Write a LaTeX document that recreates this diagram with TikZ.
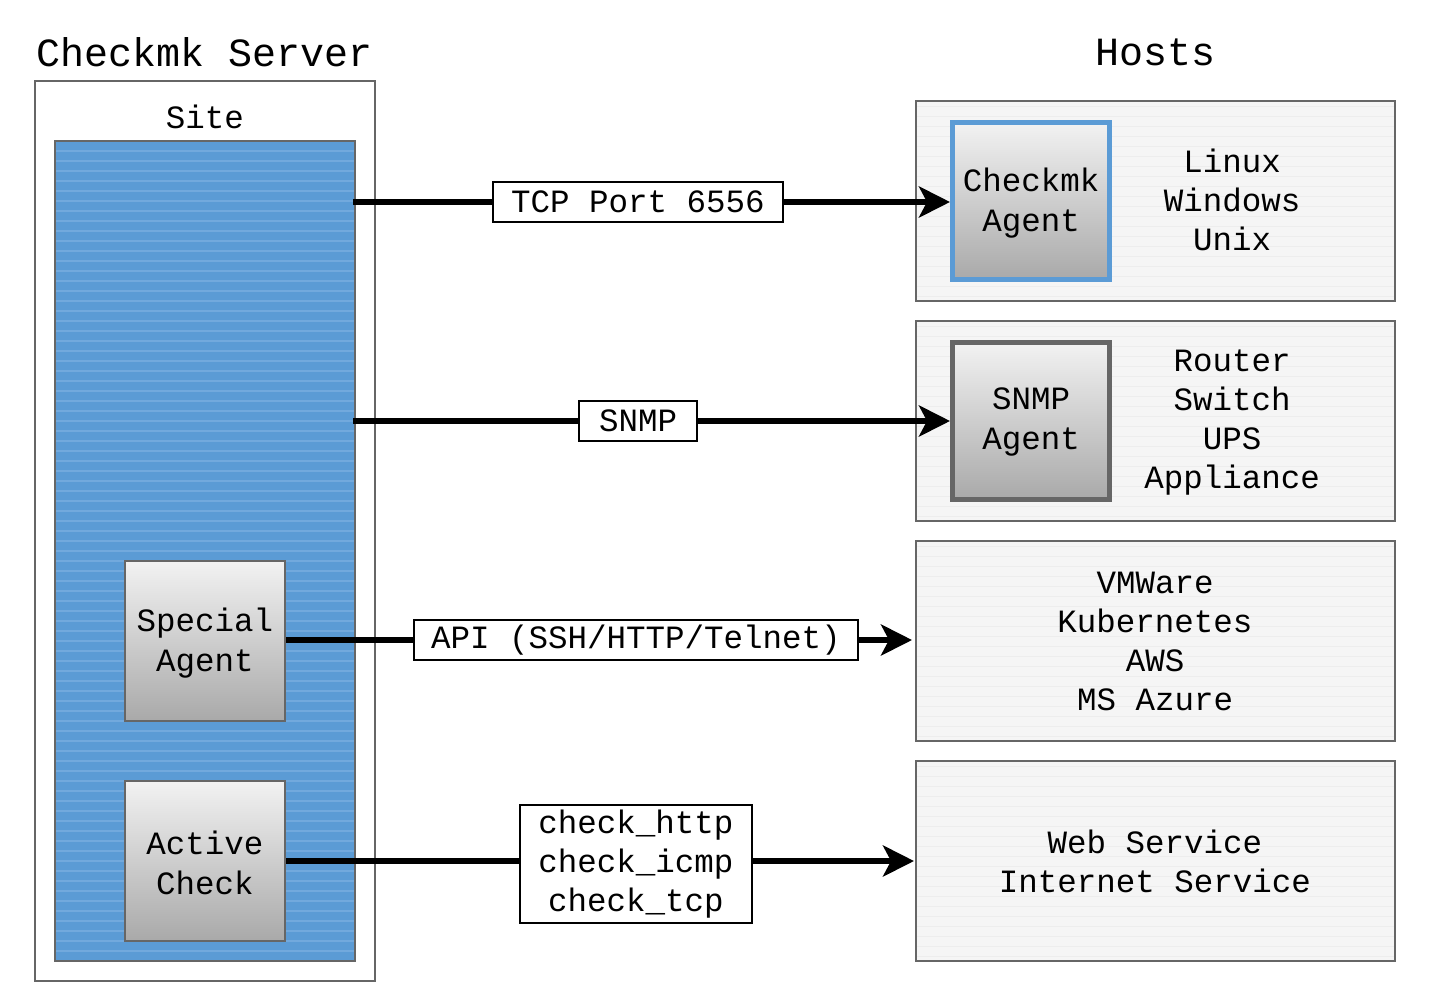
\documentclass[tikz,border=0pt]{standalone}
\usepackage{fontspec}
\setmainfont{Liberation Mono}
\usetikzlibrary{arrows.meta}
\definecolor{siteblue}{HTML}{5B9BD5}
\definecolor{stripeblue}{HTML}{72A9DD}
\definecolor{bordergray}{HTML}{666666}
\definecolor{hostfill}{HTML}{F5F5F5}
\definecolor{hoststripe}{HTML}{EDEDED}
\definecolor{gradtop}{HTML}{F2F2F2}
\definecolor{gradbot}{HTML}{A9A9A9}
\begin{document}
\begin{tikzpicture}[x=1pt,y=-1pt,
  txt/.style={font=\fontsize{32.5pt}{39pt}\selectfont, align=center, inner sep=0pt},
  titletxt/.style={font=\fontsize{40pt}{48pt}\selectfont, inner sep=0pt},
  frame/.style={draw=bordergray, line width=2pt, rectangle, inner sep=0pt},
  gradbox/.style={frame, top color=gradtop, bottom color=gradbot, minimum width=160pt, minimum height=160pt},
  agentbox/.style={gradbox, line width=5pt, minimum width=157pt, minimum height=157pt},
  hostbox/.style={frame, minimum width=479pt, minimum height=200pt},
  lbl/.style={txt, draw=black, line width=2pt, fill=white},
  conn/.style={line width=5.5pt, draw=black},
  arr/.style={conn, -{Stealth[length=31pt,width=31pt,inset=8pt]}},
]
\useasboundingbox (0,0) rectangle (1429,996);
\fill[white] (0,0) rectangle (1429,996);

% titles
\node[titletxt] (srvtitle) at (205,52) {Checkmk Server};
\node[titletxt] (hosttitle) at (1155,52) {Hosts};

% server box
\node[frame, fill=white, minimum width=340pt, minimum height=900pt] (server) at (205,531) {};
\node[txt] (sitelbl) at (205,117) {Site};

% site box with stripes
\fill[siteblue] (55,141) rectangle (355,961);
\foreach \yy in {151,161,...,951} \draw[stripeblue, line width=1.3pt] (56,\yy) -- (354,\yy);
\node[frame, minimum width=300pt, minimum height=820pt] (site) at (205,551) {};

% host boxes with faint stripes
\foreach \cy in {201,421,641,861} {
  \fill[hostfill] (916,\cy-100) rectangle (1395,\cy+100);
  \foreach \k in {-95,-85,...,95} \draw[hoststripe, line width=1pt] (917,\cy+\k) -- (1394,\cy+\k);
}
\node[hostbox] (host1) at (1155.5,201) {};
\node[hostbox] (host2) at (1155.5,421) {};
\node[hostbox] (host3) at (1155.5,641) {};
\node[hostbox] (host4) at (1155.5,861) {};

% agents inside site
\node[gradbox] (special) at (205,641) {};
\node[txt, font=\fontsize{32.5pt}{40pt}\selectfont] (specialtxt) at (205,643) {Special\\Agent};
\node[gradbox] (active) at (205,861) {};
\node[txt, font=\fontsize{32.5pt}{40pt}\selectfont] (activetxt) at (205,863) {Active\\Check};

% agents in hosts
\node[agentbox, draw=siteblue] (cmkagent) at (1031,201) {};
\node[txt, font=\fontsize{32.5pt}{40pt}\selectfont] (cmkagenttxt) at (1031,203) {Checkmk\\Agent};
\node[agentbox] (snmpagent) at (1031,421) {};
\node[txt, font=\fontsize{32.5pt}{40pt}\selectfont] (snmpagenttxt) at (1031,422) {SNMP\\Agent};

% host texts
\node[txt] (h1txt) at (1232,200) {Linux\\Windows\\Unix};
\node[txt] (h2txt) at (1232,423) {Router\\Switch\\UPS\\Appliance};
\node[txt] (h3txt) at (1155,641) {VMWare\\Kubernetes\\AWS\\MS Azure};
\node[txt] (h4txt) at (1155,861) {Web Service\\Internet Service};

% labels
\node[lbl, minimum width=290pt, minimum height=40pt] (tcp) at (638,202) {TCP Port 6556};
\node[lbl, minimum width=118pt, minimum height=40pt] (snmp) at (638,421) {SNMP};
\node[lbl, minimum width=444pt, minimum height=40pt] (api) at (636,640) {API (SSH/HTTP/Telnet)};
\node[lbl, minimum width=232pt, minimum height=118pt] (checks) at (636,864) {check\_http\\check\_icmp\\check\_tcp};

% connectors
\draw[conn] ([xshift=-3pt]site.east |- tcp.west) -- (tcp.west);
\draw[arr] (tcp.east) -- (tcp.east -| cmkagent.west);
\draw[conn] ([xshift=-3pt]site.east |- snmp.west) -- (snmp.west);
\draw[arr] (snmp.east) -- (snmp.east -| snmpagent.west);
\draw[conn] (special.east |- api.west) -- (api.west);
\draw[arr] (api.east) -- ([xshift=-3pt]api.east -| host3.west);
\draw[conn] (active.east) -- (active.east -| checks.west);
\draw[arr] (active.east -| checks.east) -- ([xshift=-1pt]active.east -| host4.west);
\end{tikzpicture}
\end{document}
